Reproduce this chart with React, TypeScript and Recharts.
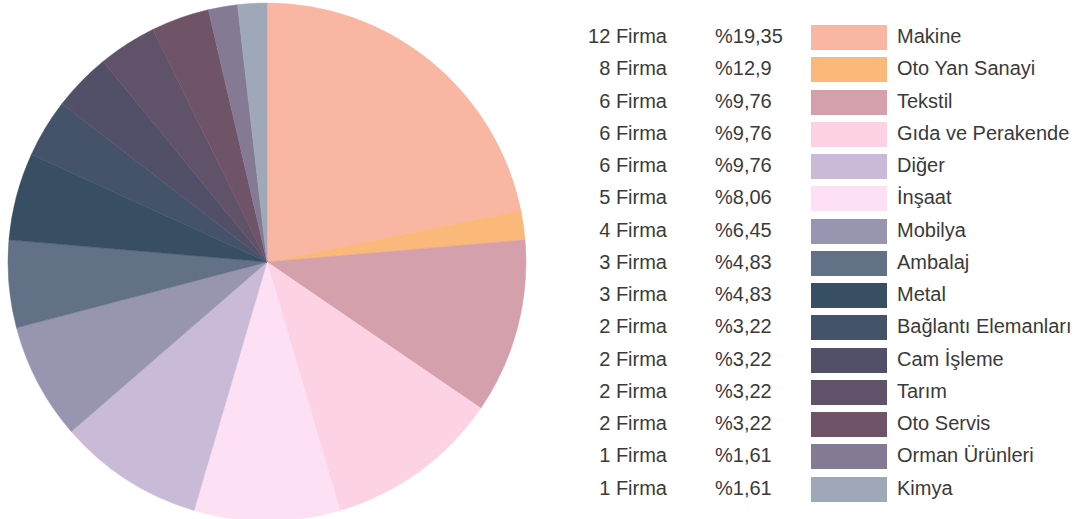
import { PieChart, Pie, Cell } from 'recharts';

// legend rows (top to bottom)
const sectors = [
  'Makine',
  'Oto Yan Sanayi',
  'Tekstil',
  'Gıda ve Perakende',
  'Diğer',
  'İnşaat',
  'Mobilya',
  'Ambalaj',
  'Metal',
  'Bağlantı Elemanları',
  'Cam İşleme',
  'Tarım',
  'Oto Servis',
  'Orman Ürünleri',
  'Kimya',
];
const firmCounts = [12, 8, 6, 6, 6, 5, 4, 3, 3, 2, 2, 2, 2, 1, 1];
const shareLabels = [
  '%19,35', '%12,9', '%9,76', '%9,76', '%9,76', '%8,06', '%6,45', '%4,83',
  '%4,83', '%3,22', '%3,22', '%3,22', '%3,22', '%1,61', '%1,61',
];
const colors = [
  '#f9b6a3', '#fab87a', '#d4a0ac', '#fdd2e4', '#c9bbd7', '#fde0f4', '#9895b0',
  '#627185', '#384f63', '#45536a', '#524f69', '#605268', '#6f5468', '#857a93', '#9ea8b9',
];

// slice sizes as drawn in the pie (clockwise from 12 o'clock)
const pieOrder = [
  'Makine', 'Oto Yan Sanayi', 'Tekstil', 'Gıda ve Perakende', 'İnşaat', 'Diğer',
  'Mobilya', 'Ambalaj', 'Metal', 'Bağlantı Elemanları', 'Cam İşleme', 'Tarım',
  'Oto Servis', 'Orman Ürünleri', 'Kimya',
];
const pieValues = [12, 1, 6, 6, 5, 5, 4, 3, 3, 2, 2, 2, 2, 1, 1];

const pieData = pieOrder.map((name, i) => ({
  name,
  value: pieValues[i],
  color: colors[sectors.indexOf(name)],
}));

const ROW_TOP = 25;
const ROW_STEP = 32.26;

export default function App() {
  return (
    <div
      style={{
        position: 'absolute',
        left: 0,
        top: 0,
        width: 1075,
        height: 519,
        background: '#fff',
        overflow: 'hidden',
        fontFamily: '"Liberation Sans", Arial, sans-serif',
        color: '#3a3a3a',
      }}
    >
      <PieChart width={540} height={519} margin={{ top: 0, right: 0, bottom: 0, left: 0 }}>
        <Pie
          data={pieData}
          dataKey="value"
          nameKey="name"
          cx={267}
          cy={262}
          outerRadius={259}
          startAngle={90}
          endAngle={-270}
          stroke="none"
          isAnimationActive={false}
        >
          {pieData.map((d) => (
            <Cell key={d.name} fill={d.color} stroke={d.color} strokeWidth={0.5} />
          ))}
        </Pie>
      </PieChart>

      {sectors.map((name, i) => {
        const top = ROW_TOP + i * ROW_STEP;
        const textTop = top - 1;
        return (
          <div key={name}>
            <div
              style={{
                position: 'absolute',
                left: 560,
                width: 107,
                top: textTop,
                height: 25,
                lineHeight: '25px',
                fontSize: 20,
                textAlign: 'right',
                whiteSpace: 'nowrap',
              }}
            >
              {firmCounts[i]} Firma
            </div>
            <div
              style={{
                position: 'absolute',
                left: 715,
                top: textTop,
                height: 25,
                lineHeight: '25px',
                fontSize: 20,
                whiteSpace: 'nowrap',
              }}
            >
              {shareLabels[i]}
            </div>
            <div
              style={{
                position: 'absolute',
                left: 811,
                top,
                width: 76,
                height: 25,
                background: colors[i],
              }}
            />
            <div
              style={{
                position: 'absolute',
                left: 897,
                top: textTop,
                height: 25,
                lineHeight: '25px',
                fontSize: 20,
                whiteSpace: 'nowrap',
              }}
            >
              {name}
            </div>
          </div>
        );
      })}
    </div>
  );
}
